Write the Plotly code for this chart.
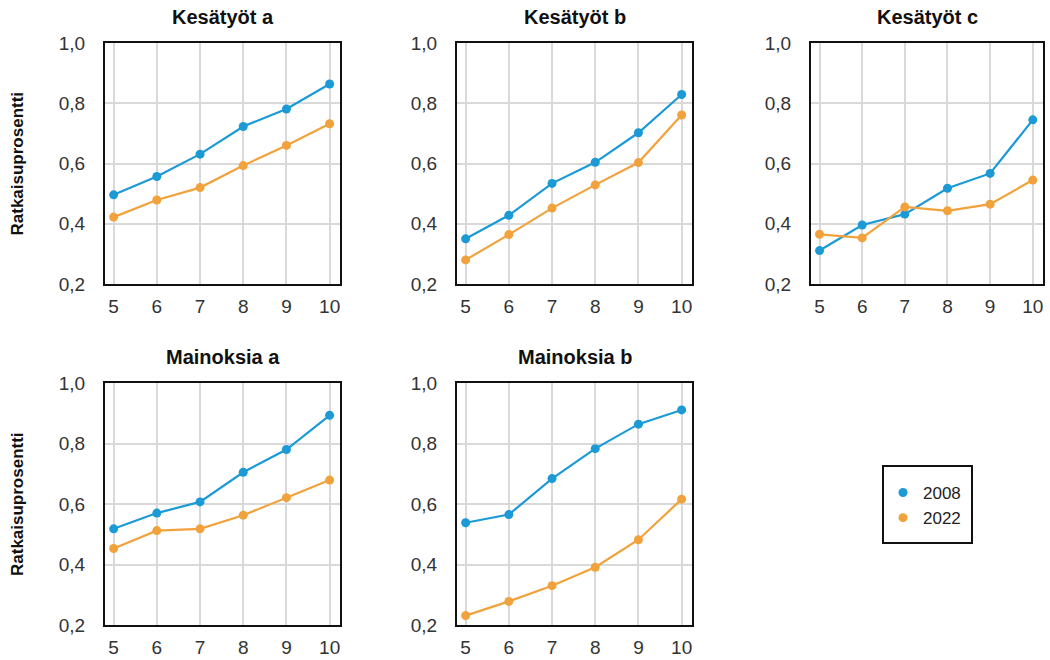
import plotly.graph_objects as go

grades = [5, 6, 7, 8, 9, 10]
titles = ["Kesätyöt a", "Kesätyöt b", "Kesätyöt c", "Mainoksia a", "Mainoksia b"]
s2008 = [
    [0.496, 0.557, 0.631, 0.723, 0.781, 0.864],
    [0.350, 0.428, 0.534, 0.604, 0.702, 0.829],
    [0.311, 0.396, 0.432, 0.518, 0.567, 0.745],
    [0.518, 0.570, 0.607, 0.705, 0.780, 0.893],
    [0.538, 0.565, 0.684, 0.783, 0.864, 0.911],
]
s2022 = [
    [0.422, 0.479, 0.520, 0.593, 0.660, 0.732],
    [0.280, 0.364, 0.452, 0.529, 0.603, 0.761],
    [0.365, 0.353, 0.456, 0.443, 0.465, 0.545],
    [0.453, 0.512, 0.518, 0.563, 0.621, 0.679],
    [0.231, 0.278, 0.330, 0.391, 0.482, 0.616],
]
series_names = ["2008", "2022"]
colors = ["#1B9AD6", "#F2A23C"]
ytitle = "Ratkaisuprosentti"

W, H = 1050, 660
xdom = [(105, 340), (457, 692), (811, 1043)]
ydom = [(43, 284), (383, 625)]

FONT = "Liberation Sans Narrow, Arial Narrow, Liberation Sans, Arial, sans-serif"

fig = go.Figure()
layout = dict(
    width=W, height=H, margin=dict(l=0, r=0, t=0, b=0, autoexpand=False),
    paper_bgcolor="white", plot_bgcolor="white",
    separators=",.",
    font=dict(family=FONT, size=19, color="#333333"),
    showlegend=True,
    annotations=[],
    shapes=[],
)

for i, title in enumerate(titles):
    r, c = divmod(i, 3)
    ax = "" if i == 0 else str(i + 1)
    xa, ya = "x" + ax, "y" + ax
    for name, data, col in zip(series_names, [s2008, s2022], colors):
        fig.add_trace(go.Scatter(
            x=grades, y=data[i], mode="lines+markers", name=name,
            line=dict(color=col, width=2.2), marker=dict(color=col, size=9),
            xaxis=xa, yaxis=ya, showlegend=False, cliponaxis=False,
        ))
    x0, x1 = xdom[c]
    y0, y1 = ydom[r]
    layout["xaxis" + ax] = dict(
        domain=[x0 / W, x1 / W], anchor=ya, range=[4.8, 10.24],
        tickvals=grades, showgrid=True, gridcolor="#d9d9d9", gridwidth=2,
        showline=True, linecolor="#111111", linewidth=2, mirror=True,
        zeroline=False, ticks="", ticklabelstandoff=4, automargin=False,
        tickfont=dict(size=19, color="#333333"),
    )
    layout["yaxis" + ax] = dict(
        domain=[1 - y1 / H, 1 - y0 / H], anchor=xa, range=[0.2, 1.0],
        tickvals=[0.2, 0.4, 0.6, 0.8, 1.0], tickformat=".1f",
        showgrid=True, gridcolor="#d9d9d9", gridwidth=2,
        showline=True, linecolor="#111111", linewidth=2, mirror=True,
        zeroline=False, ticks="", ticklabelstandoff=14, automargin=False,
        tickfont=dict(size=19, color="#333333"),
    )
    layout["annotations"].append(dict(
        text="<b>" + title + "</b>", x=(x0 + x1) / 2 / W, y=1 - (y0 - 26) / H,
        xref="paper", yref="paper", showarrow=False, xanchor="center", yanchor="middle",
        font=dict(size=20, color="#111111", family=FONT),
    ))
    if c == 0:
        layout["annotations"].append(dict(
            text="<b>" + ytitle + "</b>", x=17 / W, y=1 - (y0 + y1) / 2 / H,
            xref="paper", yref="paper", showarrow=False, textangle=-90,
            xanchor="center", yanchor="middle",
            font=dict(size=17, color="#111111", family=FONT),
        ))

for name, col in zip(series_names, colors):
    fig.add_trace(go.Scatter(
        x=[None], y=[None], mode="markers", name=name,
        marker=dict(color=col, size=9), showlegend=True,
    ))

layout["legend"] = dict(
    x=883 / W, y=1 - 475 / H, xanchor="left", yanchor="top",
    borderwidth=0, bgcolor="rgba(0,0,0,0)",
    font=dict(size=17, color="#222222", family=FONT),
    itemwidth=30, tracegroupgap=0,
)
layout["shapes"].append(dict(
    type="rect", xref="paper", yref="paper",
    x0=883 / W, x1=972 / W, y0=1 - 543 / H, y1=1 - 466 / H,
    line=dict(color="#111111", width=2), fillcolor="rgba(0,0,0,0)",
))
fig.update_layout(**layout)
fig.write_html(
    "out.html",
    config={"displayModeBar": False},
    post_script="document.body.style.margin='0px';document.body.style.padding='0px';",
)
